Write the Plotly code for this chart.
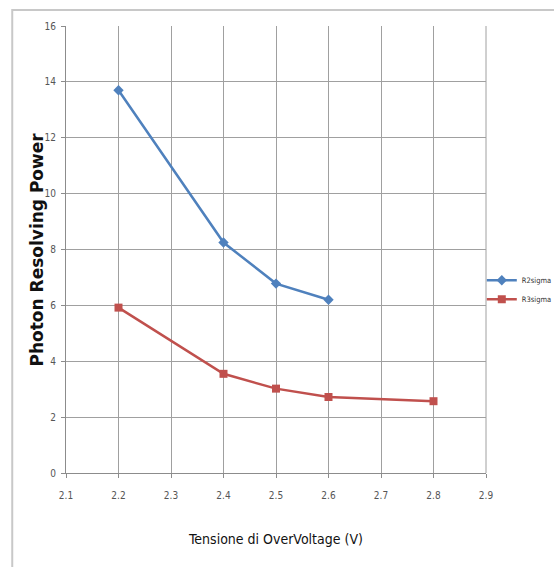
import plotly.graph_objects as go

x_r2 = [2.2, 2.4, 2.5, 2.6]
r2sigma = [13.7, 8.25, 6.78, 6.2]
x_r3 = [2.2, 2.4, 2.5, 2.6, 2.8]
r3sigma = [5.92, 3.55, 3.02, 2.72, 2.57]

x_ticks = [2.1, 2.2, 2.3, 2.4, 2.5, 2.6, 2.7, 2.8, 2.9]
y_ticks = [0, 2, 4, 6, 8, 10, 12, 14, 16]

fig = go.Figure()
fig.add_trace(go.Scatter(x=x_r2, y=r2sigma, name="R2sigma", mode="lines+markers",
                         line=dict(color="#4f81bd", width=2.5),
                         marker=dict(symbol="diamond", size=8, color="#4f81bd")))
fig.add_trace(go.Scatter(x=x_r3, y=r3sigma, name="R3sigma", mode="lines+markers",
                         line=dict(color="#c0504d", width=2.5),
                         marker=dict(symbol="square", size=8, color="#c0504d")))

cond = "DejaVu Sans Condensed, DejaVu Sans, sans-serif"
tickfont = dict(family=cond, size=10, color="#555")
fig.update_layout(
    width=554, height=567,
    margin=dict(l=66, r=68, t=26, b=94, autoexpand=False),
    paper_bgcolor="white", plot_bgcolor="white",
    showlegend=True,
    legend=dict(x=0.99, y=0.41, xanchor="left", yanchor="middle",
                font=dict(family=cond, size=7.5, color="#333"),
                bgcolor="rgba(0,0,0,0)", itemwidth=30, tracegroupgap=2),
    xaxis=dict(range=[2.1, 2.9], tickvals=x_ticks, ticktext=[str(v) for v in x_ticks],
               showgrid=True, gridcolor="#a0a0a0", gridwidth=1,
               showline=True, linecolor="#8c8c8c", linewidth=1,
               ticks="outside", ticklen=4, tickcolor="#8c8c8c",
               ticklabelstandoff=9,
               tickfont=tickfont, zeroline=False,
               title=dict(text="Tensione di OverVoltage (V)", standoff=34,
                          font=dict(family=cond, size=14, color="#111"))),
    yaxis=dict(range=[0, 16], tickvals=y_ticks, ticktext=[str(v) for v in y_ticks],
               showgrid=True, gridcolor="#a0a0a0", gridwidth=1,
               showline=True, linecolor="#8c8c8c", linewidth=1,
               ticks="outside", ticklen=4, tickcolor="#8c8c8c",
               ticklabelstandoff=3,
               tickfont=tickfont, zeroline=False),
)
# y axis title placed as annotation for exact position
fig.add_annotation(text="<b>Photon Resolving Power</b>", xref="paper", yref="paper",
                   x=-0.0714, y=0.5, xanchor="center", yanchor="middle", textangle=-90,
                   showarrow=False,
                   font=dict(family="DejaVu Sans, sans-serif", size=17, color="#111"))
# right border of plot area (gridline at 2.9) and outer chart frame
fig.add_shape(type="line", xref="paper", yref="paper", x0=1, x1=1, y0=0, y1=1,
              line=dict(color="#a0a0a0", width=1))
fig.add_shape(type="rect", xref="paper", yref="paper", x0=-0.128, x1=1.3, y0=-0.4, y1=1.036,
              line=dict(color="#c8c8c8", width=2), layer="below")

fig.write_html("out.html")
